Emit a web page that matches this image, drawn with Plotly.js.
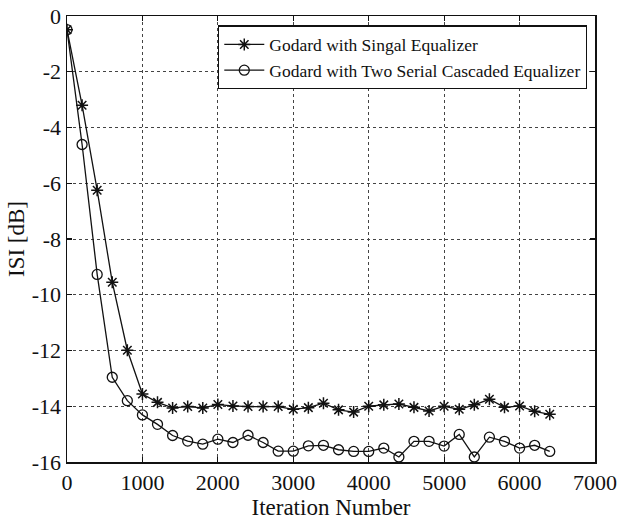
<!DOCTYPE html>
<html>
<head>
<meta charset="utf-8">
<script src="https://cdn.plot.ly/plotly-3.0.1.min.js"></script>
<style>html,body{margin:0;padding:0;background:#fff;}#chart{width:624px;height:520px;}</style>
</head>
<body>
<div id="chart"></div>
<script>
const iterations = [0,200,400,600,800,1000,1200,1400,1600,1800,2000,2200,2400,2600,2800,3000,3200,3400,3600,3800,4000,4200,4400,4600,4800,5000,5200,5400,5600,5800,6000,6200,6400];
const singleEq = [-0.49,-3.2,-6.25,-9.55,-11.99,-13.56,-13.86,-14.06,-14.01,-14.06,-13.94,-13.99,-14.01,-14.01,-14.01,-14.11,-14.05,-13.89,-14.13,-14.21,-14.0,-13.95,-13.92,-14.04,-14.17,-14.0,-14.11,-13.95,-13.75,-14.04,-13.99,-14.18,-14.29];
const cascadedEq = [-0.49,-4.61,-9.27,-12.96,-13.8,-14.31,-14.65,-15.05,-15.25,-15.36,-15.18,-15.3,-15.04,-15.3,-15.61,-15.61,-15.42,-15.4,-15.56,-15.62,-15.62,-15.5,-15.82,-15.26,-15.26,-15.43,-15.01,-15.82,-15.11,-15.26,-15.5,-15.4,-15.62];
const seriesNames = ["Godard with Singal Equalizer","Godard with Two Serial Cascaded Equalizer"];
const xTicks = [0,1000,2000,3000,4000,5000,6000,7000];
const yTicks = [0,-2,-4,-6,-8,-10,-12,-14,-16];

const fam = "'Liberation Serif', 'Times New Roman', serif";
const traces = [
  {x: iterations, y: singleEq, name: seriesNames[0], mode: "lines+markers", type: "scatter",
   line: {color: "#111", width: 1.3}, marker: {symbol: "asterisk-open", size: 10, color: "#111", line: {width: 1.5, color: "#111"}}},
  {x: iterations, y: cascadedEq, name: seriesNames[1], mode: "lines+markers", type: "scatter",
   line: {color: "#111", width: 1.3}, marker: {symbol: "circle-open", size: 10, color: "#111", line: {width: 1.3, color: "#111"}}}
];
const axisCommon = {
  showline: true, linecolor: "#111", linewidth: 1.5, mirror: "ticks",
  ticks: "inside", ticklen: 5, tickcolor: "#111", tickwidth: 1.2,
  showgrid: true, gridcolor: "#444", griddash: "dot", gridwidth: 1,
  zeroline: false,
  tickfont: {family: fam, size: 22, color: "#111"}
};
const layout = {
  width: 624, height: 520,
  margin: {l: 67, r: 29, t: 16, b: 58},
  paper_bgcolor: "#fff", plot_bgcolor: "#fff",
  font: {family: fam, color: "#111", size: 18},
  showlegend: true,
  legend: {x: 0.985, xanchor: "right", y: 0.979, yanchor: "top", bgcolor: "#fff",
    bordercolor: "#111", borderwidth: 1.2, font: {family: fam, size: 17.5, color: "#111"},
    tracegroupgap: 0, itemwidth: 40},
  xaxis: Object.assign({}, axisCommon, {range: [0, 7000], tickvals: xTicks, ticktext: xTicks.map(String),
    automargin: false,
    title: {text: "Iteration Number", font: {family: fam, size: 23, color: "#111"}}}),
  yaxis: Object.assign({}, axisCommon, {range: [-16, 0], tickvals: yTicks, ticktext: yTicks.map(String),
    automargin: "left",
    title: {text: "ISI [dB]", font: {family: fam, size: 23, color: "#111"}, standoff: 0}})
};
Plotly.newPlot("chart", traces, layout, {displayModeBar: false, staticPlot: true});
</script>
</body>
</html>
